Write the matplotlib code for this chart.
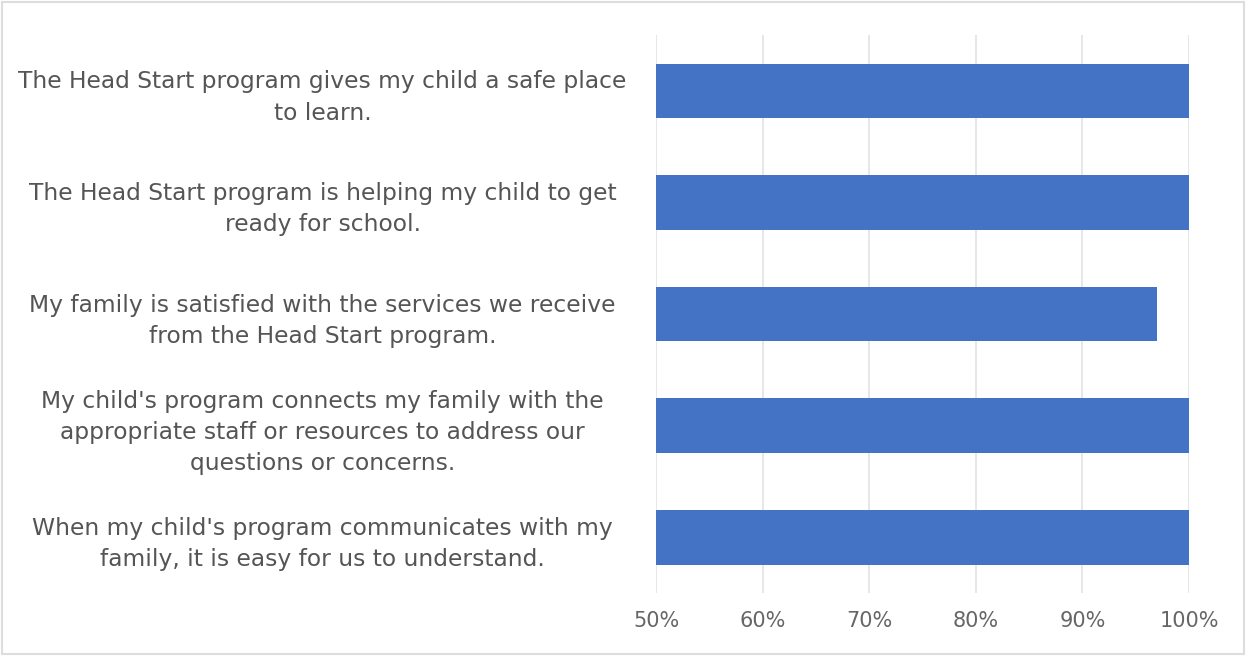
import numpy as np
import matplotlib.pyplot as plt
from matplotlib.patches import Rectangle

plt.rcParams['font.family'] = ['DejaVu Sans']

# survey statements and share of positive answers (%)
statements = [
    'The Head Start program gives my child a safe place\nto learn.',
    'The Head Start program is helping my child to get\nready for school.',
    'My family is satisfied with the services we receive\nfrom the Head Start program.',
    "My child's program connects my family with the\nappropriate staff or resources to address our\nquestions or concerns.",
    "When my child's program communicates with my\nfamily, it is easy for us to understand.",
]
values = [100, 100, 97, 100, 100]
ticks = [50, 60, 70, 80, 90, 100]
tick_labels = ['50%', '60%', '70%', '80%', '90%', '100%']

fig = plt.figure(figsize=(12.46, 6.56), dpi=100)
ax = fig.add_axes([0.5265, 0.096, 0.4278, 0.8504])

y = np.arange(len(statements))
ax.barh(y, values, height=0.49, color='#4472c4', zorder=3)
ax.set_xlim(50, 100)
ax.set_ylim(len(statements) - 0.5, -0.5)

ax.set_xticks(ticks)
ax.set_xticklabels(tick_labels, color='#666666', fontsize=15)
ax.set_yticks(y)
ax.set_yticklabels(statements, color='#555555', fontsize=16.8, ha='center',
                   multialignment='center', linespacing=1.45)
ax.tick_params(axis='y', length=0, pad=240)
ax.tick_params(axis='x', length=0, pad=13)
ax.grid(axis='x', color='#e3e3e3', linewidth=1.2, zorder=0)
for s in ax.spines.values():
    s.set_visible(False)

# thin frame around the whole figure
fig.patches.append(Rectangle((0.002, 0.003), 0.996, 0.994, transform=fig.transFigure,
                             fill=False, edgecolor='#dddddd', linewidth=1.5))

fig.savefig('out.png', dpi=100)
